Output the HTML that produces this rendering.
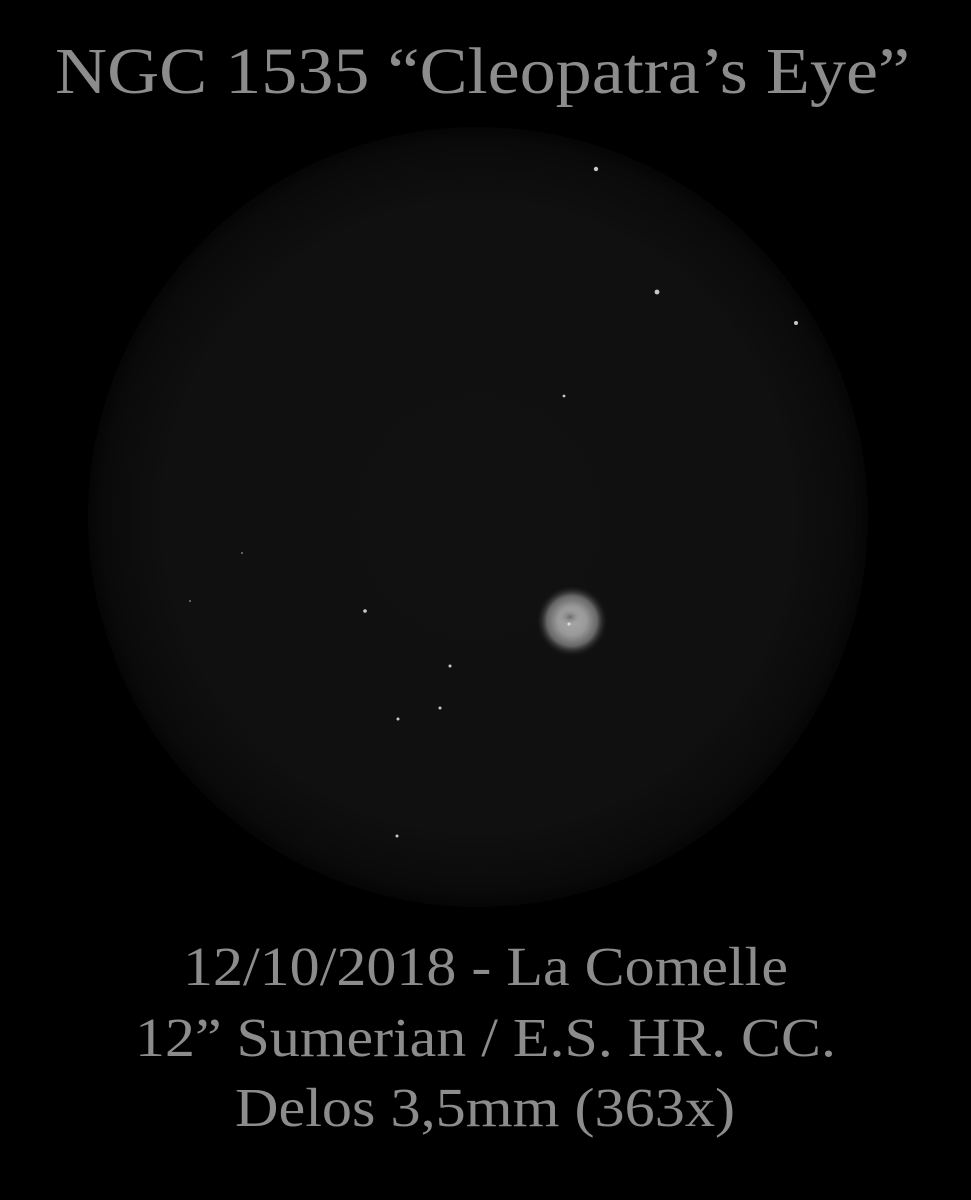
<!DOCTYPE html>
<html><head><meta charset="utf-8">
<style>
html,body{margin:0;padding:0;background:#000;}
svg{display:block;}
text{font-family:"Liberation Serif",serif;fill:#8c8c8c;}
</style></head>
<body>
<svg id="s" width="971" height="1200" viewBox="0 0 971 1200">
<defs>
<radialGradient id="field" cx="0.5" cy="0.5" r="0.5">
<stop offset="0" stop-color="#111111"/>
<stop offset="0.8" stop-color="#101010"/>
<stop offset="0.96" stop-color="#0a0a0a"/>
<stop offset="1" stop-color="#050505"/>
</radialGradient>
<radialGradient id="neb" cx="0.5" cy="0.5" r="0.5">
<stop offset="0" stop-color="#a8a8a8"/>
<stop offset="0.4" stop-color="#999"/>
<stop offset="0.7" stop-color="#666"/>
<stop offset="1" stop-color="#111" stop-opacity="0"/>
</radialGradient>
<radialGradient id="core" cx="0.5" cy="0.5" r="0.5">
<stop offset="0" stop-color="#6a6a6a"/>
<stop offset="1" stop-color="#999" stop-opacity="0"/>
</radialGradient>
</defs>
<rect width="971" height="1200" fill="#000"/>
<ellipse cx="478" cy="517" rx="390" ry="390" fill="url(#field)"/>
<g id="stars"></g>
<g>
<circle cx="572" cy="621" r="36" fill="url(#neb)"/>
<ellipse cx="570" cy="617" rx="11" ry="8" fill="url(#core)"/>
<circle cx="569" cy="624" r="1.5" fill="#e0e0e0"/>
</g>
<text x="55" y="93" font-size="66" textLength="855" lengthAdjust="spacingAndGlyphs">NGC 1535 “Cleopatra’s Eye”</text>
<text x="183" y="985" font-size="55" textLength="605" lengthAdjust="spacingAndGlyphs">12/10/2018 - La Comelle</text>
<text x="135" y="1056" font-size="55" textLength="701" lengthAdjust="spacingAndGlyphs">12” Sumerian / E.S. HR. CC.</text>
<text x="235" y="1126" font-size="55" textLength="500" lengthAdjust="spacingAndGlyphs">Delos 3,5mm (363x)</text>
</svg>
<script>
const starX=[596,657,796,564,242,190,365,450,440,398,397];
const starY=[169,292,323,396,553,601,611,666,708,719,836];
const starR=[2.2,2.4,2,1.4,1,1,1.8,1.5,1.5,1.5,1.5];
const g=document.getElementById('stars');
for(let i=0;i<starX.length;i++){
  const c=document.createElementNS('http://www.w3.org/2000/svg','circle');
  c.setAttribute('cx',starX[i]);c.setAttribute('cy',starY[i]);c.setAttribute('r',starR[i]);
  c.setAttribute('fill',starR[i]>1.2?'#c8c8c8':'#777');
  
  
  g.appendChild(c);
}
</script>
</body></html>
